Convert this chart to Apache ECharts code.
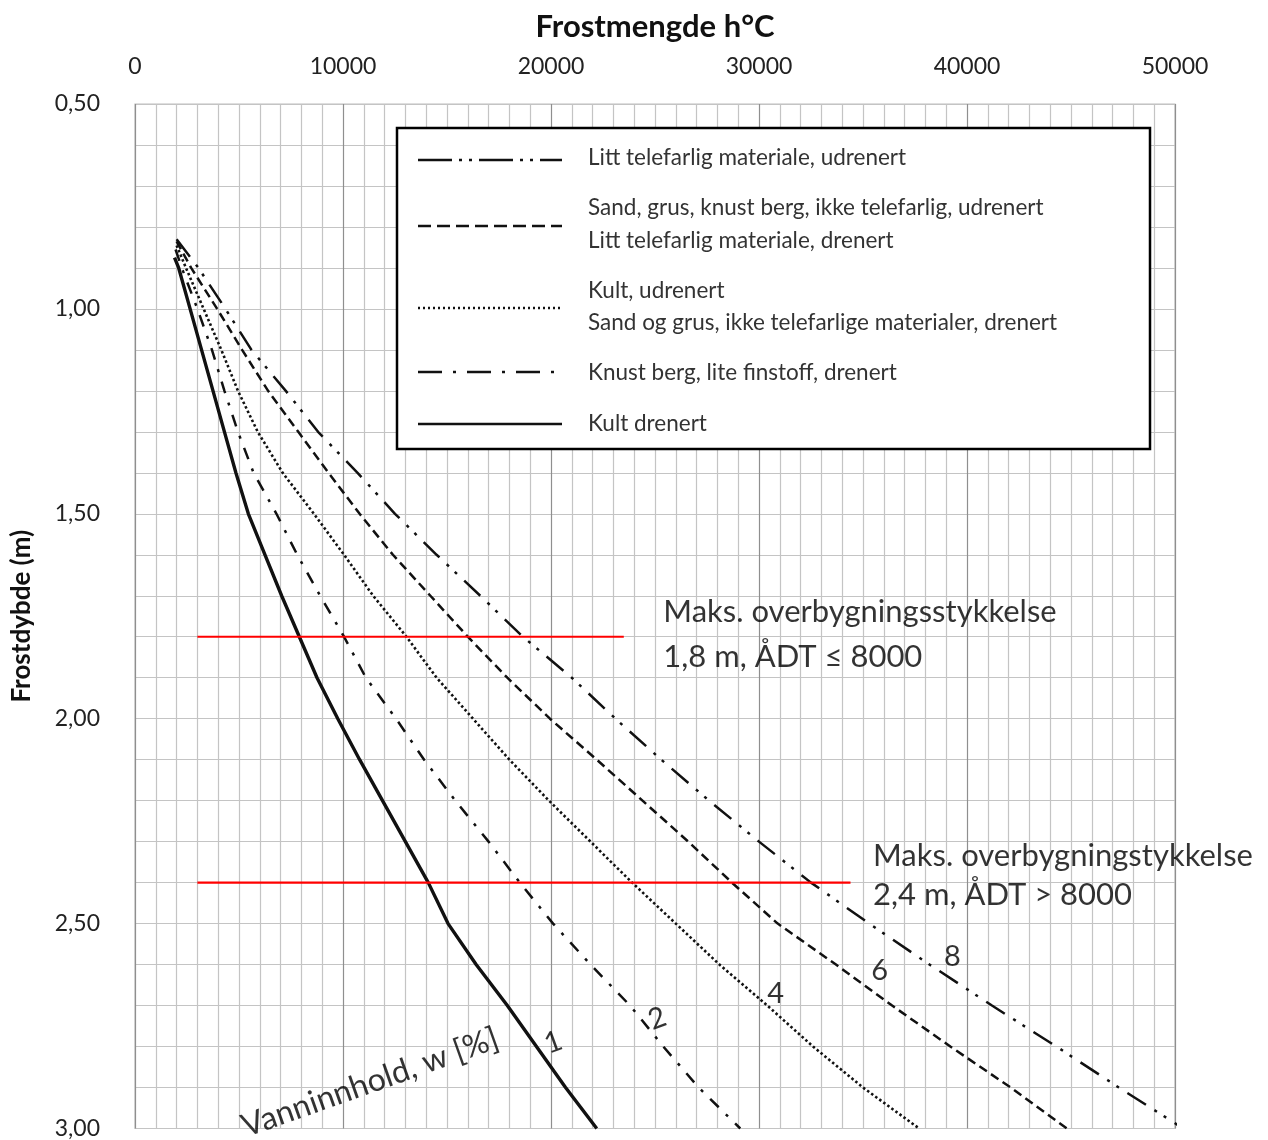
<!DOCTYPE html>
<html>
<head>
<meta charset="utf-8">
<title>Frostmengde og frostdybde</title>
<script src="https://cdn.jsdelivr.net/npm/echarts@6/dist/echarts.min.js"></script>
<style>
  html, body { margin: 0; padding: 0; background: #fff; }
  #main { width: 1268px; height: 1140px; }
</style>
</head>
<body>
<div id="main"></div>
<script>
// dybder (m) som kurvene er lest av ved
var depths = [0.9, 1.0, 1.1, 1.2, 1.3, 1.4, 1.5, 1.6, 1.7, 1.8, 1.9,
              2.0, 2.1, 2.2, 2.3, 2.4, 2.5, 2.6, 2.7, 2.8, 2.9, 3.0];

// frostmengde (h°C) ved dybdene over, en liste per kurve
var kultDrenert    = [2100, 2650, 3200, 3750, 4300, 4850, 5450, 6250, 7050, 7900, 8750,
                      9750, 10800, 11900, 13000, 14100, 15050, 16400, 17900, 19300, 20700, 22200];
var knustBerg      = [2250, 3000, 3700, 4300, 4950, 5700, 6800, 7800, 8900, 10050, 11100,
                      12550, 13900, 15400, 17000, 18500, 20100, 21900, 23800, 25400, 27100, 29100];
var kultUdrenert   = [2450, 3300, 4150, 4950, 5900, 7100, 8600, 10050, 11450, 13050, 14500,
                      16250, 18000, 19900, 21900, 23900, 26000, 28100, 30400, 32600, 35000, 37700];
var sandGrus       = [2700, 3950, 5150, 6400, 7850, 9300, 10800, 12400, 14200, 16000, 17900,
                      19950, 22200, 24400, 26600, 28700, 30900, 33700, 36400, 39200, 42100, 44800];
var littTelefarlig = [3050, 4350, 5600, 7250, 8800, 10700, 12500, 14500, 16600, 18650, 21000,
                      23100, 25300, 27600, 30000, 32500, 35300, 38200, 41200, 44300, 47300, 50400];

// felles startpunkt øverst [frostmengde, dybde]
var startKultDrenert = [1900, 0.875];
var startKnustBerg = [1950, 0.855];
var startKultUdrenert = [2000, 0.845];
var startSandGrus = [2000, 0.835];
var startLittTelefarlig = [2000, 0.83];

// røde linjer for maks. overbygningstykkelse: [fra, til, dybde]
var maks18 = [3000, 23500, 1.8];
var maks24 = [3000, 34400, 2.4];

// vanninnhold-tall ved kurvene
var wLabels = ['1', '2', '4', '6', '8'];
var wLabelPos = [[20100, 2.79], [25100, 2.732], [30800, 2.671], [35800, 2.615], [39300, 2.581]];

var noteTexts = ['Maks. overbygningsstykkelse', '1,8 m, ÅDT ≤ 8000',
                 'Maks. overbygningstykkelse', '2,4 m, ÅDT > 8000'];
var notePos = [[25400, 1.74], [25400, 1.85], [35480, 2.335], [35480, 2.43]];

var legendTexts = [
  ['Litt telefarlig materiale, udrenert'],
  ['Sand, grus, knust berg, ikke telefarlig, udrenert', 'Litt telefarlig materiale, drenert'],
  ['Kult, udrenert', 'Sand og grus, ikke telefarlige materialer, drenert'],
  ['Knust berg, lite finstoff, drenert'],
  ['Kult drenert']
];

var FONT = 'Lato, "Open Sans", sans-serif';

function curve(start, xs) {
  var pts = [start];
  for (var i = 0; i < xs.length; i++) pts.push([xs[i], depths[i]]);
  return pts;
}

var dashDotDot = [22, 10, 3, 8, 3, 10];
var dashed = [9, 5];
var dotted = [2.5, 2.5];
var dashDot = [12, 10, 3, 10];

function lineSeries(name, data, type, width) {
  return {
    name: name, type: 'line', data: data, symbol: 'none', clip: true,
    lineStyle: { color: '#111', width: width, type: type },
    z: 5
  };
}

var chart = echarts.init(document.getElementById('main'));

var gridLine = { color: '#c4c4c4', width: 1.2 };

// tegnforklaring (legend) med to-linjers tekster
var lx1 = 418, lx2 = 562, tx = 588;
var lineY = [160, 226, 308, 372, 424];
var textY = [[158], [208, 241], [291, 323], [373], [424]];
var legendDash = [[34, 7, 3, 7, 3, 7], [13, 6], [2, 3], [24, 11, 3, 11], null];
var legendWidth = [2.4, 2.4, 2.4, 2.4, 2.6];
var legendGraphics = [{
  type: 'rect', shape: { x: 397, y: 128, width: 753, height: 321 },
  style: { fill: '#fff', stroke: '#000', lineWidth: 2.5 }, z: 100
}];
for (var k = 0; k < lineY.length; k++) {
  legendGraphics.push({
    type: 'line', shape: { x1: lx1, y1: lineY[k], x2: lx2, y2: lineY[k] },
    style: { stroke: '#111', lineWidth: legendWidth[k], lineDash: legendDash[k] }, z: 101
  });
  for (var j = 0; j < legendTexts[k].length; j++) {
    legendGraphics.push({
      type: 'text', x: tx, y: textY[k][j], z: 101,
      style: { text: legendTexts[k][j], fill: '#333', fontSize: 22.5, fontFamily: FONT,
               verticalAlign: 'middle', align: 'left' }
    });
  }
}

var option = {
  animation: false,
  backgroundColor: '#fff',
  grid: { left: 135, right: 93, top: 104, bottom: 10, show: true, borderColor: '#bdbdbd', borderWidth: 1.2 },
  xAxis: {
    type: 'value', position: 'top', min: 0, max: 50000, interval: 10000,
    name: 'Frostmengde h°C', nameLocation: 'middle', nameGap: 62,
    nameTextStyle: { fontFamily: FONT, fontSize: 31, fontWeight: 'bold', color: '#111' },
    axisLine: { show: false }, axisTick: { show: false },
    axisLabel: {
      fontFamily: FONT, fontSize: 23, color: '#222', margin: 26,
      formatter: function (v) { return String(v); }
    },
    splitLine: { show: true, lineStyle: { color: '#8f8f8f', width: 1.2 } },
    minorTick: { show: true, splitNumber: 10, length: 0 },
    minorSplitLine: { show: true, lineStyle: gridLine }
  },
  yAxis: {
    type: 'value', inverse: true, min: 0.5, max: 3.0, interval: 0.5,
    name: 'Frostdybde (m)', nameLocation: 'middle', nameGap: 100,
    nameTextStyle: { fontFamily: FONT, fontSize: 26, fontWeight: 'bold', color: '#111' },
    axisLine: { show: false }, axisTick: { show: false },
    axisLabel: {
      fontFamily: FONT, fontSize: 23, color: '#222', margin: 35,
      formatter: function (v) { return v.toFixed(2).replace('.', ','); }
    },
    splitLine: { show: true, lineStyle: gridLine },
    minorTick: { show: true, splitNumber: 5, length: 0 },
    minorSplitLine: { show: true, lineStyle: gridLine }
  },
  graphic: legendGraphics,
  series: [
    lineSeries('Litt telefarlig materiale, udrenert', curve(startLittTelefarlig, littTelefarlig), dashDotDot, 2.5),
    lineSeries('Sand, grus, knust berg', curve(startSandGrus, sandGrus), dashed, 2.5),
    lineSeries('Kult, udrenert', curve(startKultUdrenert, kultUdrenert), dotted, 2.6),
    lineSeries('Knust berg, lite finstoff, drenert', curve(startKnustBerg, knustBerg), dashDot, 2.5),
    lineSeries('Kult drenert', curve(startKultDrenert, kultDrenert), 'solid', 3.4),
    {
      type: 'line', symbol: 'none', z: 6,
      data: [[maks18[0], maks18[2]], [maks18[1], maks18[2]]],
      lineStyle: { color: '#ff0000', width: 2.2 }
    },
    {
      type: 'line', symbol: 'none', z: 6,
      data: [[maks24[0], maks24[2]], [maks24[1], maks24[2]]],
      lineStyle: { color: '#ff0000', width: 2.2 }
    },
    {
      type: 'scatter', symbolSize: 0, z: 7, silent: true,
      data: noteTexts.map(function (t, i) { return { name: t, value: notePos[i] }; }),
      label: {
        show: true, position: [0, 0], align: 'left', verticalAlign: 'middle',
        formatter: '{b}', fontFamily: FONT, fontSize: 31, color: '#000'
      }
    },
    {
      type: 'scatter', symbolSize: 0, z: 7, silent: true,
      data: wLabels.map(function (t, i) {
        return { name: t, value: wLabelPos[i], label: { rotate: i < 2 ? 20 : 0 } };
      }),
      label: {
        show: true, position: [0, 0], align: 'center', verticalAlign: 'middle',
        formatter: '{b}', fontFamily: FONT, fontSize: 29, color: '#000'
      }
    },
    {
      type: 'scatter', symbolSize: 0, z: 7, silent: true,
      data: [{ name: 'Vanninnhold, w [%]', value: [11300, 2.888] }],
      label: {
        show: true, position: [0, 0], align: 'center', verticalAlign: 'middle', rotate: 19.5,
        formatter: '{b}', fontFamily: FONT, fontSize: 32, color: '#000'
      }
    }
  ]
};

chart.setOption(option);
</script>
</body>
</html>
